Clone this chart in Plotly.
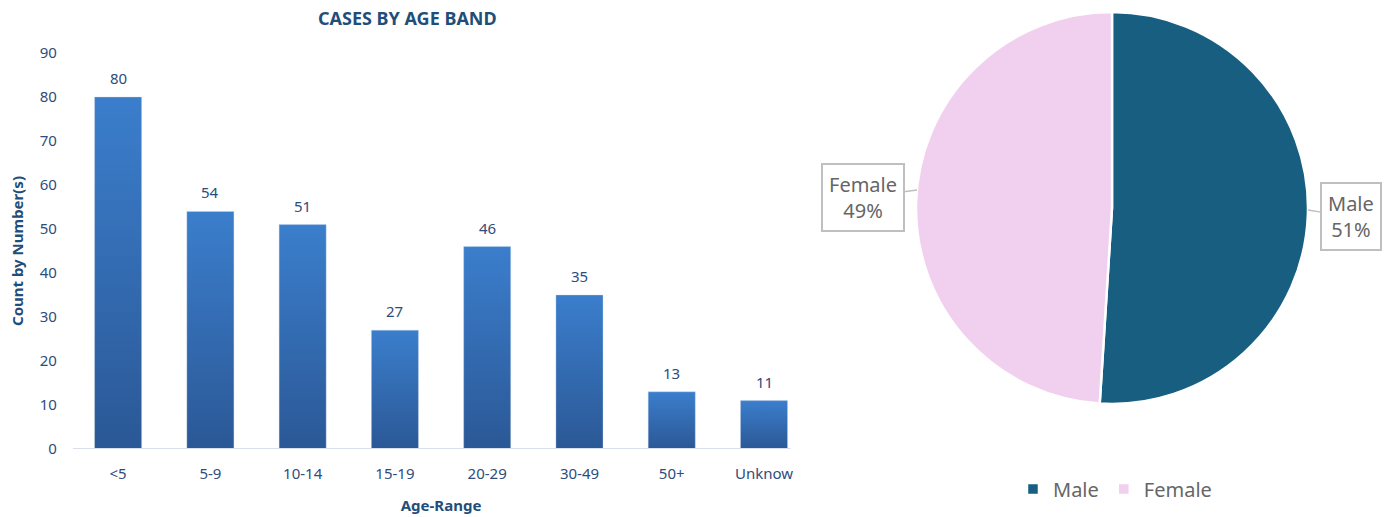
import plotly.graph_objects as go

# Age band counts
age_bands = ["<5", "5-9", "10-14", "15-19", "20-29", "30-49", "50+", "Unknow"]
case_counts = [80, 54, 51, 27, 46, 35, 13, 11]
y_ticks = [0, 10, 20, 30, 40, 50, 60, 70, 80, 90]

# Sex split
sex_labels = ["Male", "Female"]
sex_counts = [51, 49]
sex_colors = ["#175E80", "#F1CFEE"]

BAR_HALF = 0.255
TXT_BLUE = "#2E4D7B"
TITLE_BLUE = "#1F4E79"
GREY = "#666666"
FONT = "Noto Sans"

fig = go.Figure()

# Bars drawn as filled polygons so each one can carry a vertical gradient
for i, v in enumerate(case_counts):
    fig.add_trace(go.Scatter(
        x=[i - BAR_HALF, i + BAR_HALF, i + BAR_HALF, i - BAR_HALF, i - BAR_HALF],
        y=[0, 0, v, v, 0],
        mode="lines", fill="toself",
        line=dict(width=0.6, color="rgba(200,215,235,0.6)"),
        fillgradient=dict(type="vertical",
                          colorscale=[[0, "#2B5896"], [1, "#3B7ECC"]]),
        hoverinfo="skip", showlegend=False,
        xaxis="x", yaxis="y",
    ))

# Sex pie
fig.add_trace(go.Pie(
    labels=sex_labels, values=sex_counts,
    marker=dict(colors=sex_colors, line=dict(color="white", width=2.5)),
    sort=False, direction="clockwise", rotation=0,
    textinfo="none", hoverinfo="label+percent",
    domain=dict(x=[0.658, 0.9397], y=[0.2186, 0.9768]),
    automargin=False,
))

# Value labels above the bars
annotations = [
    dict(x=i, y=v, xref="x", yref="y", text=str(v), showarrow=False,
         yanchor="bottom", yshift=7,
         font=dict(family=FONT, size=15, color=TXT_BLUE))
    for i, v in enumerate(case_counts)
]

total = sum(sex_counts)
pct = {lab: round(100 * c / total) for lab, c in zip(sex_labels, sex_counts)}

annotations += [
    dict(text="<b>CASES BY AGE BAND</b>", xref="paper", yref="paper",
         x=0.293, y=1 - 18 / 517, xanchor="center", yanchor="middle", showarrow=False,
         font=dict(family=FONT, size=18, color=TITLE_BLUE)),
    # callout labels for the pie
    dict(text=f"Female<br>{pct['Female']}%", xref="paper", yref="paper",
         x=917 / 1392, y=(517 - 190) / 517, ax=-54, ay=7,
         showarrow=True, arrowhead=0, arrowwidth=1.5, arrowcolor="#BFBFBF",
         bordercolor="#BFBFBF", borderwidth=2, borderpad=6, bgcolor="white",
         font=dict(family=FONT, size=20, color=GREY)),
    dict(text=f"Male<br>{pct['Male']}%", xref="paper", yref="paper",
         x=1308 / 1392, y=(517 - 210) / 517, ax=43, ay=7,
         showarrow=True, arrowhead=0, arrowwidth=1.5, arrowcolor="#BFBFBF",
         bordercolor="#BFBFBF", borderwidth=2, borderpad=6, bgcolor="white",
         font=dict(family=FONT, size=20, color=GREY)),
]

fig.update_layout(
    width=1392, height=517,
    margin=dict(l=0, r=0, t=0, b=0, autoexpand=False),
    paper_bgcolor="white", plot_bgcolor="white",
    font=dict(family=FONT, color=TXT_BLUE),
    xaxis=dict(
        domain=[0.0517, 0.582], range=[-0.5, len(age_bands) - 0.5],
        tickmode="array", tickvals=list(range(len(age_bands))), ticktext=age_bands,
        showgrid=False, zeroline=False, showline=False, ticks="",
        tickfont=dict(size=15, color=TXT_BLUE), ticklabelstandoff=14,
        automargin=False,
        title=dict(text="<b>Age-Range</b>", font=dict(size=15, color=TITLE_BLUE), standoff=18),
    ),
    yaxis=dict(
        domain=[0.1315, 0.8975], range=[0, 90],
        tickmode="array", tickvals=y_ticks,
        showgrid=False, zeroline=False, showline=False, ticks="",
        tickfont=dict(size=15, color=TXT_BLUE), ticklabelstandoff=14,
        automargin=False,
        title=dict(text="<b>Count by Number(s)</b>", font=dict(size=15, color=TITLE_BLUE), standoff=12),
    ),
    shapes=[dict(type="line", xref="paper", yref="y", x0=0.0525, x1=0.568, y0=0, y1=0,
                 line=dict(color="#D6DFEA", width=2))],
    legend=dict(orientation="h", x=0.801, y=1 - 489 / 517, xanchor="center", yanchor="middle",
                font=dict(family=FONT, size=20, color=GREY),
                itemwidth=30, traceorder="normal"),
    annotations=annotations,
)

fig.write_html("out.html")
